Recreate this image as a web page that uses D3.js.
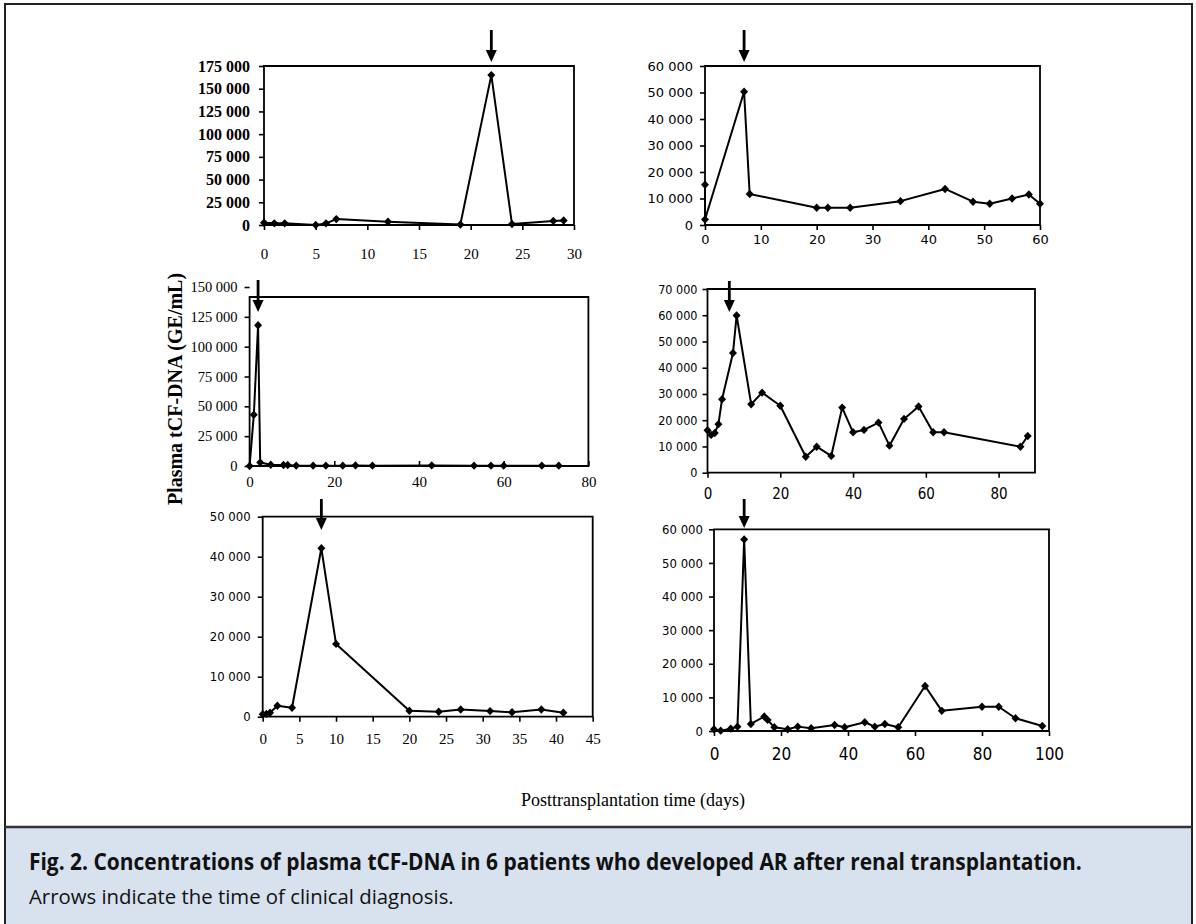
<!DOCTYPE html>
<html><head><meta charset="utf-8">
<script src="https://cdn.jsdelivr.net/npm/d3@7"></script>
<style>html,body{margin:0;padding:0;background:#fff;}svg{display:block;}</style>
</head><body>
<script>
// ---------- DATA ----------
const p1Days = [0, 1, 2, 5, 6, 7, 12, 19, 22, 24, 28, 29];
const p1Vals = [2500, 1800, 1800, 0, 1800, 6500, 3500, 500, 165000, 1000, 4500, 5000];
const p2Days = [0, 0, 7, 8, 20, 22, 26, 35, 43, 48, 51, 55, 58, 60];
const p2Vals = [15200, 2100, 50300, 11700, 6500, 6500, 6500, 9000, 13600, 8800, 8000, 10000, 11500, 8000];
const p3Days = [0, 1, 2, 2.5, 5, 8, 9, 11, 15, 18, 22, 25, 29, 43, 53, 57, 60, 69, 73];
const p3Vals = [0, 43000, 118000, 3000, 1000, 800, 800, 300, 300, 300, 300, 500, 300, 500, 300, 300, 300, 300, 300];
const p4Days = [0, 1, 2, 3, 4, 7, 8, 12, 15, 20, 27, 30, 34, 37, 40, 43, 47, 50, 54, 58, 62, 65, 86, 88];
const p4Vals = [16200, 14400, 15100, 18500, 28000, 45600, 59900, 26100, 30500, 25500, 6100, 9900, 6400, 24800, 15400, 16300, 19100, 10300, 20500, 25200, 15400, 15400, 9900, 14000];
const p5Days = [0, 0.5, 1, 2, 4, 8, 10, 20, 24, 27, 31, 34, 38, 41];
const p5Vals = [600, 700, 1000, 2750, 2250, 42100, 18200, 1500, 1250, 1800, 1400, 1100, 1800, 1000];
const p6Days = [0, 2, 5, 7, 9, 11, 15, 16, 18, 22, 25, 29, 36, 39, 45, 48, 51, 55, 63, 68, 80, 85, 90, 98];
const p6Vals = [500, 100, 700, 1300, 57000, 2100, 4300, 3300, 1100, 500, 1300, 800, 1800, 1100, 2600, 1300, 2100, 1100, 13400, 6000, 7200, 7200, 3800, 1500];

// diagnosis (arrow) days
const arrowDays = [22, 7, 2, 6, 8, 9];

// axis tick values and labels
const p1XTicks = [0, 5, 10, 15, 20, 25, 30];
const p1YTicks = [0, 25000, 50000, 75000, 100000, 125000, 150000, 175000];
const p1YLabels = ["0", "25 000", "50 000", "75 000", "100 000", "125 000", "150 000", "175 000"];
const p2XTicks = [0, 10, 20, 30, 40, 50, 60];
const p2YTicks = [0, 10000, 20000, 30000, 40000, 50000, 60000];
const p2YLabels = ["0", "10 000", "20 000", "30 000", "40 000", "50 000", "60 000"];
const p3XTicks = [0, 20, 40, 60, 80];
const p3YTicks = [0, 25000, 50000, 75000, 100000, 125000, 150000];
const p3YLabels = ["0", "25 000", "50 000", "75 000", "100 000", "125 000", "150 000"];
const p4XTicks = [0, 20, 40, 60, 80];
const p4YTicks = [0, 10000, 20000, 30000, 40000, 50000, 60000, 70000];
const p4YLabels = ["0", "10 000", "20 000", "30 000", "40 000", "50 000", "60 000", "70 000"];
const p5XTicks = [0, 5, 10, 15, 20, 25, 30, 35, 40, 45];
const p5YTicks = [0, 10000, 20000, 30000, 40000, 50000];
const p5YLabels = ["0", "10 000", "20 000", "30 000", "40 000", "50 000"];
const p6XTicks = [0, 20, 40, 60, 80, 100];
const p6YTicks = [0, 10000, 20000, 30000, 40000, 50000, 60000];
const p6YLabels = ["0", "10 000", "20 000", "30 000", "40 000", "50 000", "60 000"];

const yTitle = "Plasma tCF-DNA (GE/mL)";
const xTitle = "Posttransplantation time (days)";
const caption1 = "Fig. 2.  Concentrations of plasma tCF-DNA in 6 patients who developed AR after renal transplantation.";
const caption2 = "Arrows indicate the time of clinical diagnosis.";

// ---------- LAYOUT ----------
const W = 1196, H = 924;
const serif = "'Liberation Serif','Times New Roman',Times,serif";
const sans = "'DejaVu Sans',Verdana,sans-serif";
const sansC = "'DejaVu Sans Condensed','DejaVu Sans',sans-serif";
const narrow = "'Liberation Sans Narrow','DejaVu Sans Condensed',sans-serif";
const capFont = "'Open Sans','Noto Sans',sans-serif";

const panels = [
  {days:p1Days, vals:p1Vals, xMax:30, yMax:175000, xr:[264,574], yr:[225,66], frameTopVal:175000,
   xTicks:p1XTicks, yTicks:p1YTicks, yLabels:p1YLabels, arrow:arrowDays[0], arrowY:[30,62],
   yFont:{f:serif, s:16, w:"bold"}, xFont:{f:serif, s:15, w:"normal"}, xOff:34, yGap:14, tickIn:false},
  {days:p2Days, vals:p2Vals, xMax:60, yMax:60000, xr:[705,1040], yr:[225,66], frameTopVal:60000,
   xTicks:p2XTicks, yTicks:p2YTicks, yLabels:p2YLabels, arrow:arrowDays[1], arrowY:[30,62],
   yFont:{f:sans, s:13, w:"normal"}, xFont:{f:sans, s:13, w:"normal"}, xOff:19, yGap:12, tickIn:false},
  {days:p3Days, vals:p3Vals, xMax:80, yMax:150000, xr:[249.6,588.4], yr:[466,287], frameTopVal:141600,
   xTicks:p3XTicks, yTicks:p3YTicks, yLabels:p3YLabels, arrow:arrowDays[2], arrowY:[280,312],
   yFont:{f:serif, s:14.5, w:"normal"}, xFont:{f:serif, s:15, w:"normal"}, xOff:21, yGap:12, tickIn:true},
  {days:p4Days, vals:p4Vals, xMax:90, yMax:70000, xr:[707.5,1035], yr:[472.7,289], frameTopVal:70000,
   xTicks:p4XTicks, yTicks:p4YTicks, yLabels:p4YLabels, arrow:arrowDays[3], arrowY:[281,312],
   yFont:{f:sansC, s:12.5, w:"normal"}, xFont:{f:narrow, s:15, w:"normal"}, xOff:26, yGap:10, tickIn:false},
  {days:p5Days, vals:p5Vals, xMax:45, yMax:50000, xr:[262.7,592.7], yr:[716.7,516.7], frameTopVal:50000,
   xTicks:p5XTicks, yTicks:p5YTicks, yLabels:p5YLabels, arrow:arrowDays[4], arrowY:[499,530],
   yFont:{f:sansC, s:13, w:"normal"}, xFont:{f:serif, s:15, w:"normal"}, xOff:27, yGap:12, tickIn:false},
  {days:p6Days, vals:p6Vals, xMax:100, yMax:60000, xr:[714,1049], yr:[731,529.3], frameTopVal:60000,
   xTicks:p6XTicks, yTicks:p6YTicks, yLabels:p6YLabels, arrow:arrowDays[5], arrowY:[499,528],
   yFont:{f:sansC, s:13, w:"normal"}, xFont:{f:narrow, s:17, w:"normal"}, xOff:29, yGap:11, tickIn:false}
];

const svg = d3.select("body").append("svg").attr("width", W).attr("height", H);
svg.append("rect").attr("x",0).attr("y",0).attr("width",W).attr("height",H).attr("fill","#fff");

// caption box
svg.append("rect").attr("x",5).attr("y",827).attr("width",1187).attr("height",H-827).attr("fill","#d8e1ee");
// figure frame
svg.append("rect").attr("x",5).attr("y",4).attr("width",1187).attr("height",H+10)
  .attr("fill","none").attr("stroke","#222").attr("stroke-width",2);
svg.append("line").attr("x1",5).attr("x2",1192).attr("y1",827).attr("y2",827)
  .attr("stroke","#333").attr("stroke-width",2.5);

const diamond = "M0,-4.2L4,0L0,4.2L-4,0Z";

panels.forEach(p => {
  const x = d3.scaleLinear().domain([0, p.xMax]).range(p.xr);
  const y = d3.scaleLinear().domain([0, p.yMax]).range(p.yr);
  const g = svg.append("g");
  const x0 = x(0), x1 = x(p.xMax), yb = y(0), yt = y(p.frameTopVal);

  g.append("path").attr("d", `M${x0},${yb}V${yt}H${x1}V${yb}Z`)
    .attr("fill","none").attr("stroke","#000").attr("stroke-width",1.8);

  const ya = g.append("g").attr("transform",`translate(${x0},0)`)
    .call(d3.axisLeft(y).tickValues(p.yTicks).tickFormat((d,i)=>p.yLabels[i]).tickSizeInner(5).tickSizeOuter(0).tickPadding(p.yGap-5));
  ya.select(".domain").remove();
  ya.selectAll("line").attr("stroke","#000").attr("stroke-width",1.6);
  ya.selectAll("text").attr("font-family",p.yFont.f).attr("font-size",p.yFont.s)
    .attr("font-weight",p.yFont.w).attr("fill","#000");

  const xa = g.append("g").attr("transform",`translate(0,${yb})`)
    .call(d3.axisBottom(x).tickValues(p.xTicks).tickSizeInner(p.tickIn ? -5 : 5).tickSizeOuter(0));
  xa.select(".domain").remove();
  xa.selectAll("line").attr("stroke","#000").attr("stroke-width",1.6);
  xa.selectAll("text").attr("y", p.xOff).attr("dy", 0)
    .attr("font-family",p.xFont.f).attr("font-size",p.xFont.s).attr("font-weight",p.xFont.w).attr("fill","#000");

  const pts = p.days.map((d,i)=>({day:d, val:p.vals[i]}));
  const line = d3.line().x(d=>x(d.day)).y(d=>y(d.val));
  g.append("path").datum(pts).attr("d", line).attr("fill","none")
    .attr("stroke","#000").attr("stroke-width",2).attr("stroke-linejoin","round");
  g.selectAll(".pt").data(pts).enter().append("path")
    .attr("d", diamond).attr("transform", d=>`translate(${x(d.day)},${y(d.val)})`).attr("fill","#000");

  const ax = x(p.arrow), [a0, a1] = p.arrowY;
  g.append("line").attr("x1",ax).attr("x2",ax).attr("y1",a0).attr("y2",a1-10)
    .attr("stroke","#000").attr("stroke-width",2.8);
  g.append("path").attr("d",`M${ax-5.5},${a1-12}L${ax+5.5},${a1-12}L${ax},${a1}Z`).attr("fill","#000");
});

// axis titles
svg.append("text").attr("transform","translate(182,389) rotate(-90)")
  .attr("text-anchor","middle").attr("font-family",serif).attr("font-weight","bold")
  .attr("font-size",20).text(yTitle);
svg.append("text").attr("x",633).attr("y",806).attr("text-anchor","middle")
  .attr("font-family",serif).attr("font-size",18).text(xTitle);

// caption lines, condensed horizontally to the reference widths
function capLine(txt, xPos, yPos, size, weight, targetW) {
  const t = svg.append("text").attr("x",0).attr("y",0).attr("font-family",capFont)
    .attr("font-weight",weight).attr("font-size",size).attr("fill","#111").text(txt);
  const w = t.node().getComputedTextLength();
  t.attr("transform",`translate(${xPos},${yPos}) scale(${targetW / w},1)`);
}
capLine(caption1, 29, 870, 23, "bold", 1053);
capLine(caption2, 29, 904, 20, "normal", 425);
</script>
</body></html>
